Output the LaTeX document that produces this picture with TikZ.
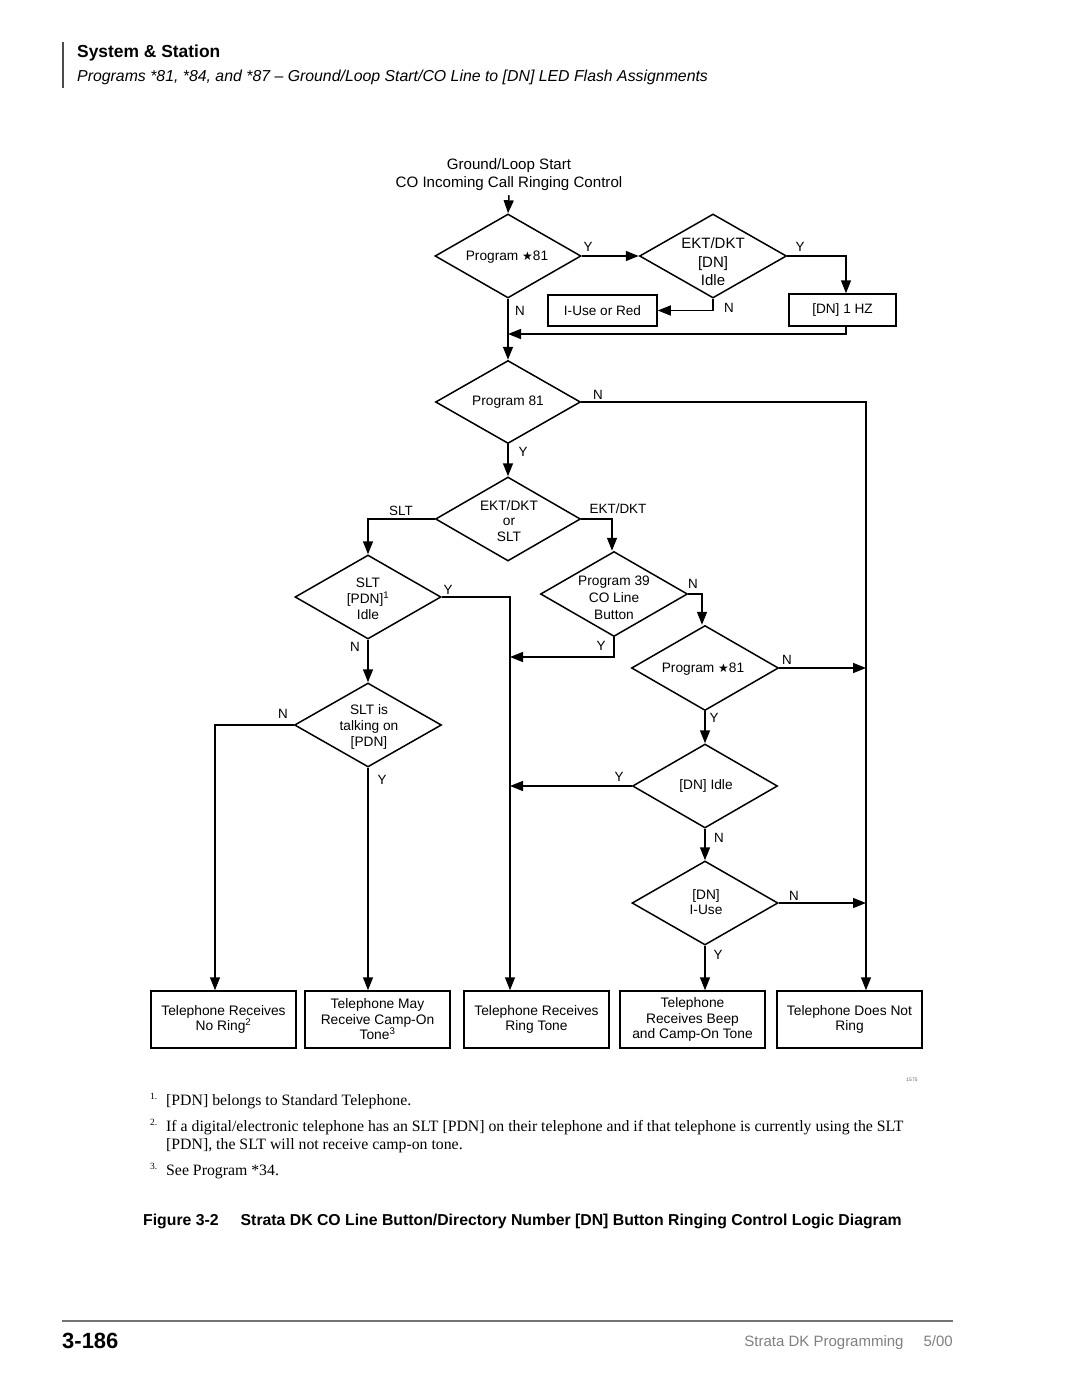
\documentclass[tikz,border=0pt]{standalone}
\usepackage{fontspec}
\setmainfont{Liberation Sans}
\newfontfamily\serifft{Liberation Serif}
\newfontfamily\dvs{DejaVu Sans}
\usetikzlibrary{shapes.geometric,arrows.meta}
\newcommand\fsz[2]{\fontsize{#1}{#2}\selectfont}
\newcommand\starsym{{\dvs\fontsize{12}{10}\selectfont ★}}
\begin{document}
\begin{tikzpicture}[x=1pt,y=-1pt,
  dia/.style={draw, shape=diamond, minimum width=146pt, minimum height=84pt, inner sep=0pt, line width=1.5pt},
  dtxt/.style={align=center, font=\fsz{13.7}{15.8}, inner sep=0pt},
  lbl/.style={font=\fsz{13.4}{14}, inner sep=0pt},
  conn/.style={line width=1.5pt},
  arr/.style={conn, -{Triangle[length=13pt,width=10pt]}},
  smallbox/.style={draw, line width=1.5pt, minimum height=32pt, inner sep=0pt, font=\fsz{13.6}{15}},
  endbox/.style={draw, line width=1.5pt, minimum width=145pt, minimum height=57pt, inner sep=0pt, align=center, font=\fsz{13.8}{15.5}},
  foot/.style={font=\serifft\fsz{15.8}{18}, inner sep=0pt, anchor=base west},
  fmark/.style={font=\serifft\fsz{9.5}{10}, inner sep=0pt, anchor=base west}
]
\useasboundingbox (0,0) rectangle (1080,1397);
\fill[white] (0,0) rectangle (1080,1397);

% header
\draw[line width=1.2pt, black!70] (63,42) -- (63,88);
\node[anchor=west, inner sep=0pt, font=\bfseries\fsz{17.4}{20}] (hdr) at (77,53) {System \& Station};
\node[anchor=west, inner sep=0pt, font=\itshape\fsz{15.85}{17}] (sub) at (77,77) {Programs *81, *84, and *87 -- Ground/Loop Start/CO Line to [DN] LED Flash Assignments};

% start text
\node[align=center, inner sep=0pt, font=\fsz{15.1}{18}] (start) at (509,175) {Ground/Loop Start\\CO Incoming Call Ringing Control};

% diamonds
\node[dia] (d1) at (508,256) {};
\node[dtxt] (d1t) at (507,257) {Program \starsym 81};
\node[dia, minimum width=147pt] (d2) at (713,256) {};
\node[dtxt, font=\fsz{15}{18.5}] (d2t) at (713,262) {EKT/DKT\\{}[DN]\\Idle};
\node[dia, minimum width=145pt, minimum height=83pt] (d3) at (508,402) {};
\node[dtxt] (d3t) at (508,402) {Program 81};
\node[dia, minimum width=145pt] (d4) at (508,519) {};
\node[dtxt] (d4t) at (509,521) {EKT/DKT\\or\\SLT};
\node[dia] (d5) at (368,597) {};
\node[dtxt] (d5t) at (368,599) {SLT\\{}[PDN]\textsuperscript{1}\\Idle};
\node[dia, minimum width=147pt, minimum height=85pt] (d6) at (614,594) {};
\node[dtxt, font=\fsz{13.7}{17}] (d6t) at (614,598) {Program 39\\CO Line\\Button};
\node[dia, minimum width=147pt] (d7) at (368,725) {};
\node[dtxt] (d7t) at (369,727) {SLT is\\talking on\\{}[PDN]};
\node[dia, minimum width=147pt, minimum height=85pt] (d8) at (705,668) {};
\node[dtxt] (d8t) at (703,669) {Program \starsym 81};
\node[dia, minimum width=145pt] (d9) at (705,786) {};
\node[dtxt] (d9t) at (706,786) {[DN] Idle};
\node[dia] (d10) at (705,903) {};
\node[dtxt] (d10t) at (706,902) {[DN]\\I-Use};

% small boxes
\node[smallbox, minimum width=107pt] (hz) at (842.5,310) {[DN] 1 HZ};
\node[smallbox, minimum width=109pt, minimum height=31pt] (iuse) at (602.5,310.5) {I-Use or Red};

% end boxes
\node[endbox] (b1) at (223.5,1019.5) {Telephone Receives\\No Ring\textsuperscript{2}};
\node[endbox] (b2) at (377.5,1019.5) {Telephone May\\Receive Camp-On\\Tone\textsuperscript{3}};
\node[endbox] (b3) at (536.5,1019.5) {Telephone Receives\\Ring Tone};
\node[endbox] (b4) at (692.5,1019.5) {Telephone\\Receives Beep\\and Camp-On Tone};
\node[endbox] (b5) at (849.5,1019.5) {Telephone Does Not\\Ring};

% helper coordinates
\coordinate (rx) at (866,0);
\coordinate (mx) at (510,0);
\coordinate (lx) at (215,0);
\coordinate (merge) at (508,334);
\coordinate (j1) at (510,657);

% connectors
\draw[arr] (start.south) ++(0,4) coordinate (s0) (s0) -- (d1.north);
\draw[arr] (d1.east) -- (d2.west);
\draw[arr] (d2.east) -| ([xshift=3.5pt]hz.north);
\draw[arr] (d2.south) |- (iuse.east);
\draw[arr] (d1.south) -- (d3.north);
\draw[arr] ([xshift=3.5pt]hz.south) |- (merge);
\draw[arr] (d3.east) -| (rx |- b5.north);
\draw[arr] (d3.south) -- (d4.north);
\draw[arr] (d4.west) -| (d5.north);
\draw[arr] (d4.east) -| ([xshift=-2pt]d6.north);
\draw[arr] (d5.east) -| (mx |- b3.north);
\draw[arr] (d5.south) -- (d7.north);
\draw[arr] (d6.east) -| ([xshift=-3pt]d8.north);
\draw[arr] (d6.south) |- (j1);
\draw[arr] (d8.east) -- (rx |- d8.east);
\draw[arr] (d8.south) -- (d9.north);
\draw[arr] (d7.west) -| (lx |- b1.north);
\draw[arr] (d7.south) -- (d7.south |- b2.north);
\draw[arr] (d9.west) -- (mx |- d9.west);
\draw[arr] (d9.south) -- (d10.north);
\draw[arr] (d10.east) -- (rx |- d10.east);
\draw[arr] (d10.south) -- (d10.south |- b4.north);

% branch labels
\node[lbl] (l1) at (588,247) {Y};
\node[lbl] (l2) at (800,247) {Y};
\node[lbl] (l3) at (520,311) {N};
\node[lbl] (l4) at (729,308) {N};
\node[lbl] (l5) at (598,395) {N};
\node[lbl] (l6) at (523,452) {Y};
\node[lbl] (l7) at (401,511) {SLT};
\node[lbl] (l8) at (618,509) {EKT/DKT};
\node[lbl] (l9) at (448,590) {Y};
\node[lbl] (l10) at (355,647) {N};
\node[lbl] (l11) at (693,584) {N};
\node[lbl] (l12) at (601,646) {Y};
\node[lbl] (l13) at (787,660) {N};
\node[lbl] (l14) at (714,718) {Y};
\node[lbl] (l15) at (283,714) {N};
\node[lbl] (l16) at (382,780) {Y};
\node[lbl] (l17) at (619,777) {Y};
\node[lbl] (l18) at (719,838) {N};
\node[lbl] (l19) at (794,896) {N};
\node[lbl] (l20) at (718,955) {Y};

% figure number
\node[inner sep=0pt, font=\fsz{5}{6}, text=black!60] (fig) at (912,1080) {1575};

% footnotes
\node[fmark] (f1m) at (150,1099) {1.};
\node[foot] (f1) at (166,1105) {[PDN] belongs to Standard Telephone.};
\node[fmark] (f2m) at (150,1125) {2.};
\node[foot] (f2) at (166,1131) {If a digital/electronic telephone has an SLT [PDN] on their telephone and if that telephone is currently using the SLT};
\node[foot] (f2b) at (166,1149) {[PDN], the SLT will not receive camp-on tone.};
\node[fmark] (f3m) at (150,1169) {3.};
\node[foot] (f3) at (166,1175) {See Program *34.};

% caption
\node[anchor=west, inner sep=0pt, font=\bfseries\fsz{15.8}{17}] (cap) at (143,1221) {Figure 3-2\hspace{22pt}Strata DK CO Line Button/Directory Number [DN] Button Ringing Control Logic Diagram};

% footer
\draw[line width=2pt, black!55] (62,1321) -- (953,1321);
\node[anchor=west, inner sep=0pt, font=\bfseries\fsz{22}{24}] (pg) at (62,1341) {3-186};
\node[anchor=east, inner sep=0pt, font=\fsz{15}{15}, text=black!50] (ftr) at (953,1343) {Strata DK Programming\hspace{20pt}5/00};
\end{tikzpicture}
\end{document}
